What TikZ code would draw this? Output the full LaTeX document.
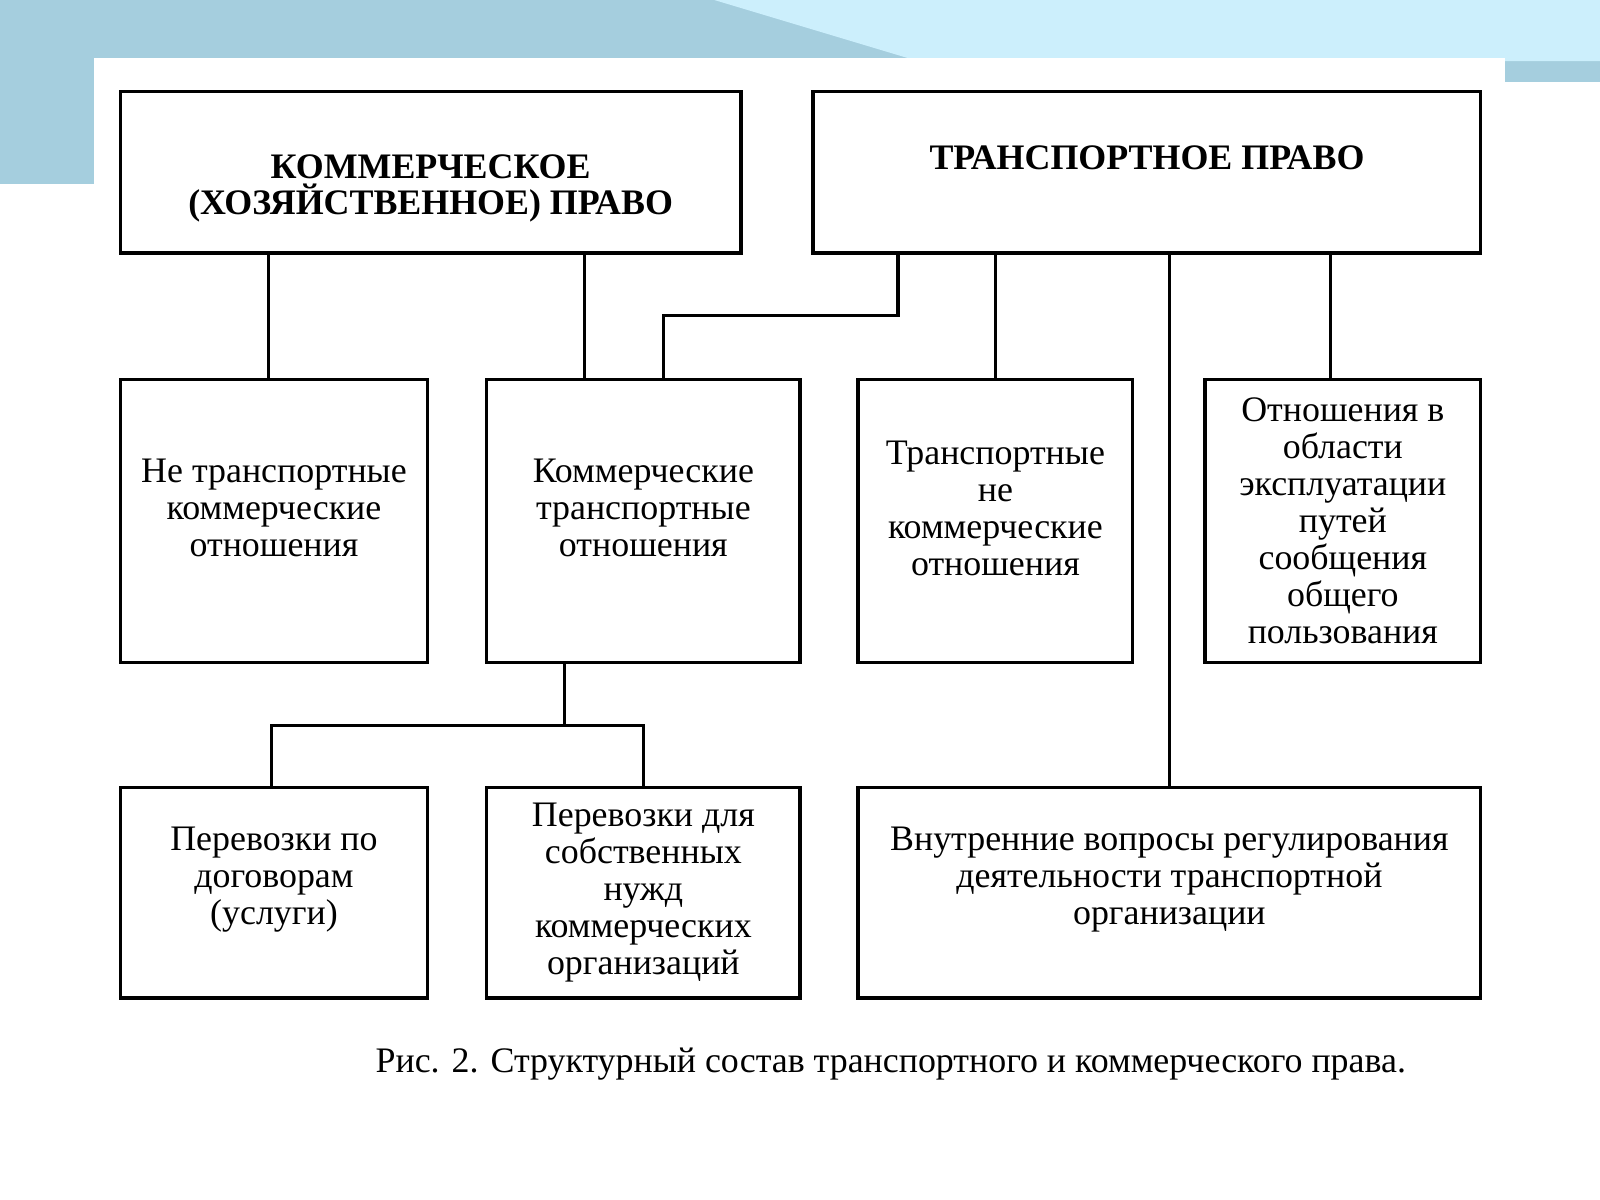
\documentclass[tikz,border=0pt]{standalone}
\usepackage{fontspec}
\setmainfont{Liberation Serif}
\usetikzlibrary{positioning,calc}

\begin{document}
\begin{tikzpicture}[x=0.01cm, y=-0.01cm, thick,
    txt/.style = {inner sep=2pt, align=center, font=\fontsize{10pt}{10.3pt}\selectfont},
    box/.style = {txt, draw, line width=0.9pt, fill=white},
    head/.style = {align=center, font=\bfseries\fontsize{10pt}{10pt}\selectfont},
    link/.style = {draw, line width=0.9pt}]
    \useasboundingbox (0,0) rectangle (1568,1176);
    % slide background
    \fill[cyan!35!teal!40] (0,0) rectangle (1568,1176);
    \fill[cyan!20!white] (700,0) -- (1568,0) -- (1568,60) -- (900,60) -- cycle;
    \fill[white] (92,57) rectangle (1475,1176);
    \fill[white] (0,180) rectangle (92,1176);
    \fill[white] (1475,80) rectangle (1568,1176);

    \node[box, minimum width=6.08cm, minimum height=1.58cm] (kom) at (422,169) {};
    \node[head] (komText) at (422,185) {КОММЕРЧЕСКОЕ\\(ХОЗЯЙСТВЕННОЕ) ПРАВО};
    \node[box, minimum width=6.54cm, minimum height=1.58cm] (tr) at (1124,169) {};
    \node[head] (trText) at (1124,155) {ТРАНСПОРТНОЕ ПРАВО};

    \node[box, minimum width=3.01cm, minimum height=2.77cm] (netr) at (268.5,510.5) {};
    \node[txt] (netrText) at (268.5,498) {Не транспортные\\коммерческие\\отношения};
    \node[box, minimum width=3.07cm, minimum height=2.77cm] (ktr) at (630.5,510.5) {};
    \node[txt] (ktrText) at (630.5,498) {Коммерческие\\транспортные\\отношения};
    \node[box, minimum width=2.69cm, minimum height=2.77cm] (trnk) at (975.5,510.5) {};
    \node[txt] (trnkText) at (975.5,498) {Транспортные\\не\\коммерческие\\отношения};
    \node[box, minimum width=2.70cm, minimum height=2.77cm] (ekspl) at (1316,510.5) {
        Отношения в\\области\\эксплуатации\\путей\\сообщения\\общего\\пользования};

    \node[box, minimum width=3.01cm, minimum height=2.06cm] (dog) at (268.5,875) {};
    \node[txt] (dogText) at (268.5,862) {Перевозки по\\договорам\\(услуги)};
    \node[box, minimum width=3.07cm, minimum height=2.06cm] (nuzh) at (630.5,875) {
        Перевозки для\\собственных\\нужд\\коммерческих\\организаций};
    \node[box, minimum width=6.10cm, minimum height=2.06cm] (vnutr) at (1146,875) {};
    \node[txt] (vnutrText) at (1146,862) {Внутренние вопросы регулирования\\деятельности транспортной\\организации};

    \node[txt] (cap) at (873,1043)
        {Рис. 2. Структурный состав транспортного и коммерческого права.};

    \draw[link] (263,248) -- (263,372);
    \draw[link] (573,248) -- (573,372);
    \draw[link] (880,248) -- (880,309) -- (650,309) -- (650,372);
    \draw[link] (tr.south -| trnk.north) -- (trnk.north);
    \draw[link] (tr.south -| vnutr.north) -- (vnutr.north);
    \draw[link] (1304,248) -- (1304,372);
    \draw[link] (553,649) -- (553,711);
    \draw[link] (266,772) -- (266,711) -- (631,711) -- (631,772);
\end{tikzpicture}
\end{document}
